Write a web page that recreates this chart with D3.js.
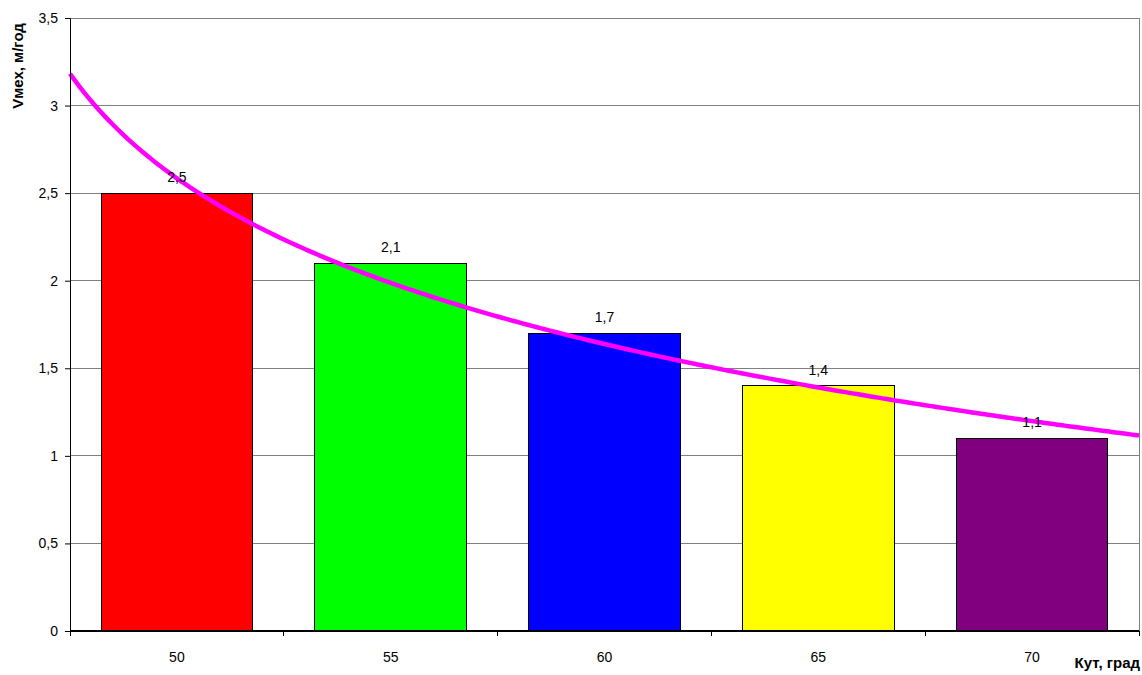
<!DOCTYPE html>
<html><head><meta charset="utf-8">
<script src="https://cdn.jsdelivr.net/npm/d3@7"></script>
<style>body{margin:0;background:#fff}svg{display:block;font-family:Arial,"Liberation Sans",sans-serif}</style>
</head><body><svg id="c" width="1142" height="675"></svg>
<script>
const categories = ["50","55","60","65","70"];
const values = [2.5, 2.1, 1.7, 1.4, 1.1];
const barColors = ["#FF0000","#00FF00","#0000FF","#FFFF00","#800080"];
const yTicks = [0,0.5,1,1.5,2,2.5,3,3.5];

const svg = d3.select("#c");
const L=70, R=1139, T=18, B=631;
const x = d3.scaleBand().domain(categories).range([L,R]).paddingInner(0.29).paddingOuter(0.145);
const y = d3.scaleLinear().domain([0,3.5]).range([B,T]);
const fmt = v => String(v).replace(".", ",");
const FF = "Arial,'Liberation Sans',sans-serif";

// gridlines
svg.append("g").selectAll("line").data(yTicks.filter(d=>d>0)).join("line")
  .attr("x1",L).attr("x2",R).attr("y1",d=>y(d)).attr("y2",d=>y(d))
  .attr("stroke","#808080").attr("stroke-width",1).attr("shape-rendering","crispEdges");
svg.append("line").attr("x1",R).attr("x2",R).attr("y1",T).attr("y2",B)
  .attr("stroke","#808080").attr("shape-rendering","crispEdges");

// bars
svg.append("g").selectAll("rect").data(values).join("rect")
  .attr("x",(d,i)=>x(categories[i])).attr("width",x.bandwidth())
  .attr("y",d=>y(d)).attr("height",d=>B-y(d))
  .attr("fill",(d,i)=>barColors[i]).attr("stroke","#000").attr("stroke-width",1)
  .attr("shape-rendering","crispEdges");

// logarithmic trendline from data (least squares y = a + b ln x, x = 1..n)
const xs = values.map((d,i)=>Math.log(i+1));
const mx = d3.mean(xs), my = d3.mean(values);
const b = d3.sum(xs.map((v,i)=>(v-mx)*(values[i]-my))) / d3.sum(xs.map(v=>(v-mx)*(v-mx)));
const a = my - b*mx;
const step = x.step();
const posToPx = p => L + (p-0.5)*step;
const pts = d3.range(0.5, 5.5001, 0.02).map(p=>[posToPx(p), y(a + b*Math.log(p))]);
svg.append("path").attr("d", d3.line()(pts)).attr("fill","none")
  .attr("stroke","#FF00FF").attr("stroke-width",4.5);

// value labels
svg.append("g").selectAll("text").data(values).join("text")
  .attr("x",(d,i)=>x(categories[i])+x.bandwidth()/2).attr("y",d=>y(d)-11)
  .attr("text-anchor","middle").attr("font-size",14).attr("fill","#000").text(d=>fmt(d));

// axes
const yAxis = d3.axisLeft(y).tickValues(yTicks).tickFormat(fmt).tickSize(5).tickPadding(7);
const gy = svg.append("g").attr("transform",`translate(${L},0)`).call(yAxis);
gy.select(".domain").attr("stroke","#000");
gy.selectAll("text").attr("font-size",14).attr("font-family",FF).attr("fill","#000");

const xAxis = d3.axisBottom(x).tickSize(0).tickPadding(21);
const gx = svg.append("g").attr("transform",`translate(0,${B})`).call(xAxis);
gx.select(".domain").attr("stroke","#000").attr("stroke-width",2).attr("d",`M${L},0H${R}`);
gx.selectAll("text").attr("font-size",14).attr("font-family",FF).attr("fill","#000");
// category separator ticks
svg.append("g").selectAll("line").data(d3.range(categories.length+1)).join("line")
  .attr("x1",i=>L+i*step).attr("x2",i=>L+i*step).attr("y1",B).attr("y2",B+5)
  .attr("stroke","#000").attr("shape-rendering","crispEdges");

// axis titles
svg.append("text").attr("transform","translate(23,66) rotate(-90)")
  .attr("text-anchor","middle").attr("font-size",15).attr("font-weight","bold").text("Vмех, м/год");
svg.append("text").attr("x",1140).attr("y",668).attr("text-anchor","end")
  .attr("font-size",15).attr("font-weight","bold").text("Кут, град");
</script></body></html>
